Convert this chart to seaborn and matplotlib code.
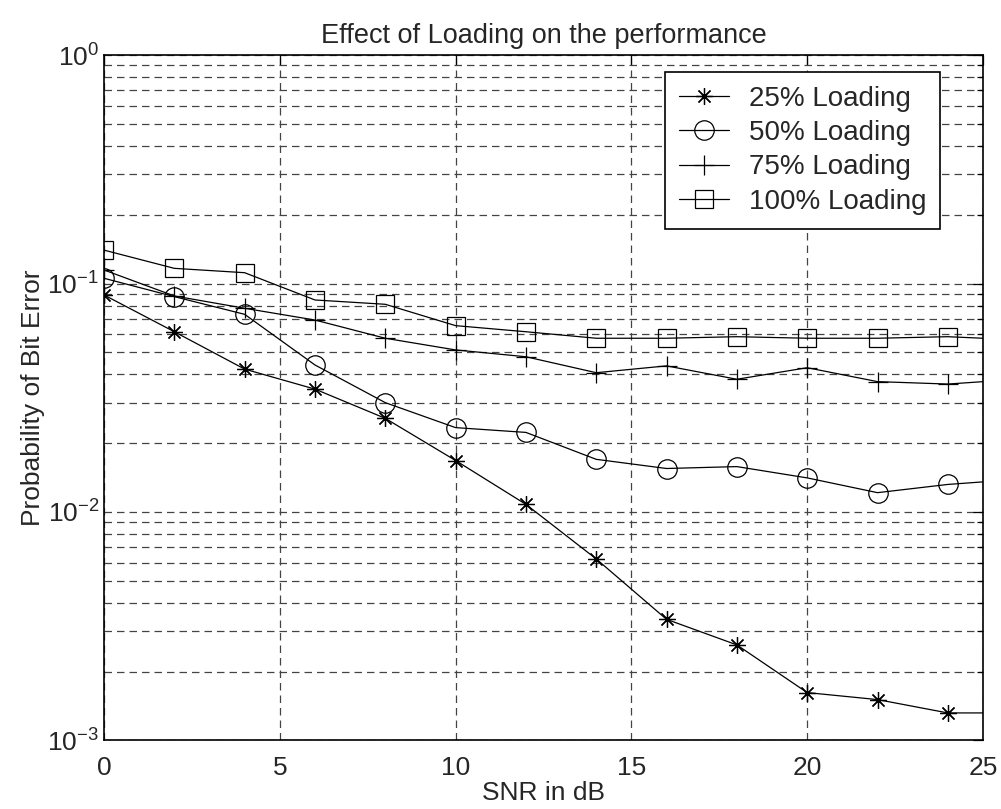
import numpy as np
import pandas as pd
import matplotlib
matplotlib.use("Agg")
import matplotlib.pyplot as plt
import seaborn as sns
from matplotlib.ticker import LogLocator, NullFormatter, FixedLocator

snr = [0, 2, 4, 6, 8, 10, 12, 14, 16, 18, 20, 22, 24, 26]
load25 = [0.0891, 0.0615, 0.0422, 0.0345, 0.0257, 0.0168, 0.0108, 0.00623,
          0.00339, 0.00262, 0.00162, 0.00151, 0.00132, 0.00132]
load50 = [0.1054, 0.0876, 0.0733, 0.0440, 0.0301, 0.0234, 0.0223, 0.0170,
          0.0155, 0.0158, 0.0141, 0.01215, 0.0132, 0.0139]
load75 = [0.1146, 0.0882, 0.0779, 0.0692, 0.0576, 0.0512, 0.0478, 0.0407,
          0.0436, 0.0381, 0.0428, 0.0372, 0.0363, 0.0381]
load100 = [0.140, 0.1165, 0.1115, 0.0847, 0.0811, 0.0654, 0.0615, 0.0576,
           0.0576, 0.0585, 0.0576, 0.0576, 0.0585, 0.0567]
labels = ["25% Loading", "50% Loading", "75% Loading", "100% Loading"]
xticks = [0, 5, 10, 15, 20, 25]

sns.set_style("white")
plt.rcParams['font.family'] = ['Liberation Sans', 'DejaVu Sans']
plt.rcParams['mathtext.fontset'] = 'custom'
plt.rcParams['mathtext.rm'] = 'Liberation Sans'

fig = plt.figure(figsize=(10.01, 8.09), dpi=100)
ax = fig.add_axes([0.1039, 0.0847, 0.8781, 0.8473])

series = [load25, load50, load75, load100]
markers = [(8, 2, 0), 'o', '+', 's']
msizes = [12, 14, 14, 12.5]
for vals, lab, mk, ms in zip(series, labels, markers, msizes):
    df = pd.DataFrame({"snr": snr, "ber": vals})
    sns.lineplot(data=df, x="snr", y="ber", ax=ax, color="black", lw=0.9,
                 marker=mk, markersize=ms, markerfacecolor='none',
                 markeredgecolor='black', markeredgewidth=0.9, label=lab,
                 errorbar=None)

ax.set_yscale('log')
ax.set_xlim(0, 25)
ax.set_ylim(1e-3, 1)
ax.xaxis.set_major_locator(FixedLocator(xticks))
ax.set_xticklabels([str(t) for t in xticks])
ax.yaxis.set_major_locator(LogLocator(base=10, numticks=10))
ax.yaxis.set_minor_locator(LogLocator(base=10, subs=np.arange(2, 10), numticks=20))
ax.yaxis.set_minor_formatter(NullFormatter())

ax.grid(True, which='major', axis='both', color='#444444', linestyle=(0, (6, 4)), lw=0.9)
ax.grid(True, which='minor', axis='y', color='#444444', linestyle=(0, (6, 4)), lw=0.9)
ax.tick_params(which='both', direction='in', top=True, right=True, labelsize=19,
               color='black')
ax.tick_params(which='major', length=7, width=0.9)
ax.tick_params(which='minor', length=4, width=0.9)
ax.tick_params(axis='x', pad=11)
for sp in ax.spines.values():
    sp.set_color('black')
    sp.set_linewidth(1.2)

ax.set_xlabel("SNR in dB", fontsize=19, labelpad=1)
ax.set_ylabel("Probability of Bit Error", fontsize=19, labelpad=2)
ax.set_title("Effect of Loading on the performance", fontsize=19.5, pad=9)

leg = ax.legend(loc='upper right', bbox_to_anchor=(0.951, 0.9755), fontsize=20,
                frameon=True, fancybox=False, edgecolor='black', framealpha=1,
                handlelength=1.8, borderpad=0.5, labelspacing=0.3,
                handletextpad=0.7, borderaxespad=0)
leg.get_frame().set_linewidth(1.2)

fig.savefig("out.png", dpi=100)
